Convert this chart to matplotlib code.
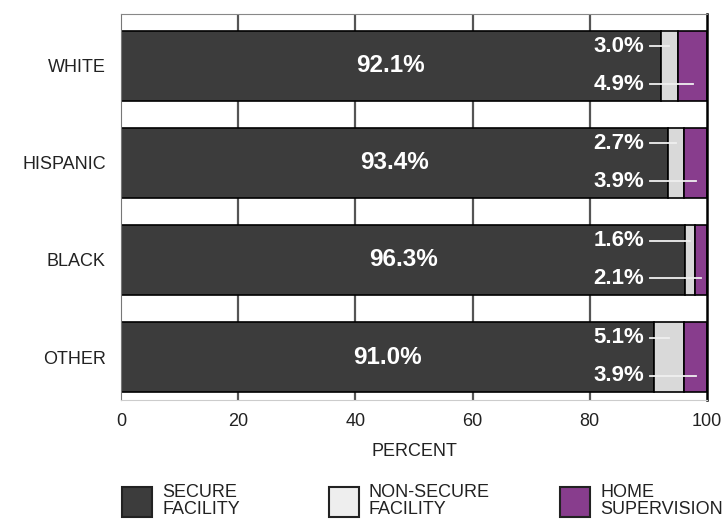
import matplotlib.pyplot as plt
from matplotlib.patches import Rectangle

plt.rcParams['font.family'] = ['Liberation Sans', 'DejaVu Sans']

groups = ["WHITE", "HISPANIC", "BLACK", "OTHER"]
secure = [92.1, 93.4, 96.3, 91.0]
non_secure = [3.0, 2.7, 1.6, 5.1]
home = [4.9, 3.9, 2.1, 3.9]

SECURE_COL = "#3c3c3c"
NONSEC_COL = "#d9d9d9"
HOME_COL = "#883d8d"
TXT = "#222222"

fig = plt.figure(figsize=(7.26, 5.19), dpi=100)
ax = fig.add_axes([121 / 726, 1 - 400 / 519, 586 / 726, 386 / 519])

y = list(range(len(groups)))
h = 0.72
ax.barh(y, secure, height=h, color=SECURE_COL, edgecolor="black", linewidth=1.2, zorder=2)
left2 = secure
ax.barh(y, non_secure, left=left2, height=h, color=NONSEC_COL, edgecolor="black",
        linewidth=1.2, zorder=2)
left3 = [a + b for a, b in zip(secure, non_secure)]
ax.barh(y, home, left=left3, height=h, color=HOME_COL, edgecolor="black",
        linewidth=1.2, zorder=2)

for i in y:
    ax.text(secure[i] / 2, i, f"{secure[i]:.1f}%", color="white", fontsize=17.5,
            fontweight="bold", ha="center", va="center", zorder=4)
    # upper label -> non-secure, lower label -> home supervision
    ax.text(89.3, i - 0.2, f"{non_secure[i]:.1f}%", color="white", fontsize=16,
            fontweight="bold", ha="right", va="center", zorder=4)
    ax.text(89.3, i + 0.19, f"{home[i]:.1f}%", color="white", fontsize=16,
            fontweight="bold", ha="right", va="center", zorder=4)
    ax.plot([90.2, secure[i] + non_secure[i] / 2], [i - 0.2, i - 0.2],
            color="#f0f0f0", lw=1.3, zorder=3)
    ax.plot([90.2, left3[i] + home[i] / 2], [i + 0.19, i + 0.19],
            color="#f0f0f0", lw=1.3, zorder=3)

ax.set_xlim(0, 100)
ax.set_ylim(3.44, -0.53)
ax.set_yticks(y)
ax.set_yticklabels(groups, fontsize=13, color=TXT)
ax.set_xticks([0, 20, 40, 60, 80, 100])
ax.set_xticklabels(["0", "20", "40", "60", "80", "100"], fontsize=13, color=TXT)
ax.tick_params(length=0, pad=9)
ax.tick_params(axis="y", pad=11)
ax.set_xlabel("PERCENT", fontsize=13, color=TXT, labelpad=10)

for xv in [20, 40, 60, 80]:
    ax.axvline(xv, color="#555555", lw=1.6, zorder=1)

ax.spines["left"].set_color("#777777")
ax.spines["top"].set_color("#888888")
ax.spines["bottom"].set_color("#cccccc")
ax.spines["right"].set_color("black")
ax.spines["right"].set_linewidth(1.8)

# legend
items = [(122, SECURE_COL, "SECURE\nFACILITY"),
         (329, "#eeeeee", "NON-SECURE\nFACILITY"),
         (560, HOME_COL, "HOME\nSUPERVISION")]
for px, col, lab in items:
    fig.add_artist(Rectangle((px / 726, 1 - 517 / 519), 30 / 726, 30 / 519,
                             transform=fig.transFigure, facecolor=col,
                             edgecolor="#222222", linewidth=1.5))
    fig.text((px + 40) / 726, 1 - 501 / 519, lab, fontsize=13, color=TXT,
             ha="left", va="center", linespacing=0.95)

fig.savefig("out.png", dpi=100)
